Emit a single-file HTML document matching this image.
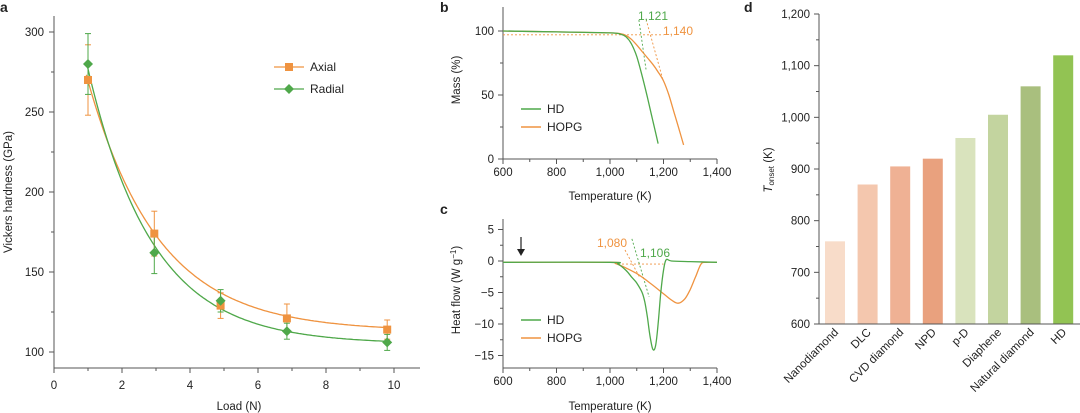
<!DOCTYPE html>
<html><head><meta charset="utf-8"><style>
body{margin:0;background:#fff}
svg{display:block;font-family:"Liberation Sans",Arial,sans-serif;font-size:11.5px;fill:#222}
</style></head><body>
<svg id="fig" width="1080" height="413" viewBox="0 0 1080 413" xmlns="http://www.w3.org/2000/svg"></svg>
<script>
// Panel a data
const loads=[1,2.95,4.9,6.85,9.8];
const axialH=[270,174,129,121,114];
const axialErr=[22,14,8,9,6];
const radialH=[280,162,132,113,106];
const radialErr=[19,13,7,5,5];
const axialFit=[113,253,2.08];
const radialFit=[105,291,1.90];
// Panel b data
const tgaTempHD=[600,800,1000,1040,1060,1080,1100,1120,1140,1160,1180];
const tgaMassHD=[100,99.3,98.5,97.5,95.5,90,80,65,48,30,12];
const tgaTempHOPG=[600,800,1000,1040,1060,1080,1100,1120,1140,1160,1180,1200,1220,1240,1260,1275];
const tgaMassHOPG=[100,99.3,98.5,97.8,96.5,93.5,89,84,79,74,68,61,50,36,22,11];
// Panel c data
const dscTempHD=[600,1000,1030,1060,1080,1100,1120,1130,1140,1150,1160,1170,1180,1190,1200,1210,1230,1300,1400];
const dscFlowHD=[-0.2,-0.2,-0.5,-1.5,-2.5,-3.5,-5,-6.5,-9,-12,-14,-13.5,-10,-5,-1.5,0.2,0,-0.1,-0.2];
const dscTempHOPG=[600,1000,1020,1050,1100,1150,1200,1230,1255,1280,1300,1320,1340,1360,1400];
const dscFlowHOPG=[-0.2,-0.2,-0.4,-0.9,-2,-3.5,-5.2,-6.2,-6.7,-6,-4.5,-2.5,-0.5,-0.2,-0.2];
// Panel d data
const materials=["Nanodiamond","DLC","CVD diamond","NPD","p-D","Diaphene","Natural diamond","HD"];
const onsetT=[760,870,905,920,960,1005,1060,1120];
const barColors=["#f8dcc9","#f4c7ae","#efb194","#e9a17e","#d9e3bd","#c3d49f","#a9bf7e","#92c353"];

const NS="http://www.w3.org/2000/svg";
const svg=document.getElementById('fig');
function el(tag,attrs,parent){const e=document.createElementNS(NS,tag);for(const k in attrs)e.setAttribute(k,attrs[k]);(parent||svg).appendChild(e);return e;}
function txt(s,x,y,attrs,parent){const t=el('text',Object.assign({x:x,y:y},attrs||{}),parent);t.textContent=s;return t;}
const AX='#555',OR='#ef9340',GR='#4fa84a';

// ---------- Panel a ----------
const ga=el('g',{});


const ax=v=>54+v*34, ay=v=>352-(v-100)*1.6;
txt('a',0,12,{'font-weight':'bold','font-size':'14'},ga);
el('line',{x1:54,y1:16,x2:54,y2:368,stroke:AX},ga);
el('line',{x1:54,y1:368,x2:420,y2:368,stroke:AX},ga);
[100,150,200,250,300].forEach(v=>{el('line',{x1:49,x2:54,y1:ay(v),y2:ay(v),stroke:AX},ga);txt(v,44,ay(v)+4,{'text-anchor':'end'},ga);});
[125,175,225,275].forEach(v=>el('line',{x1:51,x2:54,y1:ay(v),y2:ay(v),stroke:AX},ga));
for(let v=0;v<=10;v++){const big=v%2==0;el('line',{x1:ax(v),x2:ax(v),y1:368,y2:big?373:371,stroke:AX},ga);if(big)txt(v,ax(v),389,{'text-anchor':'middle'},ga);}
txt('Load (N)',239,410,{'text-anchor':'middle'},ga);
txt('Vickers hardness (GPa)',12,192,{'text-anchor':'middle',transform:'rotate(-90 12 192)'},ga);
function fitPath(p){let d='';for(let x=0.95;x<=9.85;x+=0.05){const y=p[0]+p[1]*Math.exp(-x/p[2]);d+=(d?'L':'M')+ax(x).toFixed(1)+','+ay(y).toFixed(1);}return d;}
const fa=el('path',{d:fitPath(axialFit),fill:'none',stroke:OR,'stroke-width':1.3},ga);

const fr=el('path',{d:fitPath(radialFit),fill:'none',stroke:GR,'stroke-width':1.3},ga);

function errBars(vals,errs,col,name){loads.forEach((l,i)=>{const x=ax(l),y1=ay(vals[i]+errs[i]),y2=ay(vals[i]-errs[i]);const g=el('g',{stroke:col,'stroke-width':1},ga);el('line',{x1:x,x2:x,y1:y1,y2:y2},g);el('line',{x1:x-3,x2:x+3,y1:y1,y2:y1},g);el('line',{x1:x-3,x2:x+3,y1:y2,y2:y2},g);});}
errBars(axialH,axialErr,OR,'axial');errBars(radialH,radialErr,GR,'radial');
loads.forEach((l,i)=>{const r=el('rect',{x:ax(l)-4,y:ay(axialH[i])-4,width:8,height:8,fill:OR},ga);});
loads.forEach((l,i)=>{const x=ax(l),y=ay(radialH[i]);const p=el('polygon',{points:`${x},${y-5} ${x+5},${y} ${x},${y+5} ${x-5},${y}`,fill:GR},ga);});
const lga=el('g',{},ga);
el('line',{x1:274,x2:304,y1:67,y2:67,stroke:OR,'stroke-width':1.3},lga);el('rect',{x:285,y:63,width:8,height:8,fill:OR},lga);txt('Axial',310,71,{'font-size':'12'},lga);
el('line',{x1:274,x2:304,y1:89,y2:89,stroke:GR,'stroke-width':1.3},lga);el('polygon',{points:'289,84 294,89 289,94 284,89',fill:GR},lga);txt('Radial',310,93,{'font-size':'12'},lga);

// ---------- Panel b & c common x ----------
const tx=v=>503+(v-600)*214/800;
function xAxis(g,yAxis){el('line',{x1:503,y1:yAxis,x2:717,y2:yAxis,stroke:AX},g);for(let v=600;v<=1400;v+=100){const big=v%200==0;el('line',{x1:tx(v),x2:tx(v),y1:yAxis,y2:yAxis+(big?5:3),stroke:AX},g);if(big)txt(v>=1000?(v/1000|0)+','+String(v%1000).padStart(3,'0'):v,tx(v),yAxis+17,{'text-anchor':'middle'},g);}}
function smoothD(P){let d='M'+P[0][0].toFixed(1)+','+P[0][1].toFixed(1);for(let i=0;i<P.length-1;i++){const p0=P[i-1]||P[i],p1=P[i],p2=P[i+1],p3=P[i+2]||p2;const c1=[p1[0]+(p2[0]-p0[0])/6,p1[1]+(p2[1]-p0[1])/6],c2=[p2[0]-(p3[0]-p1[0])/6,p2[1]-(p3[1]-p1[1])/6];d+=`C${c1[0].toFixed(1)},${c1[1].toFixed(1)} ${c2[0].toFixed(1)},${c2[1].toFixed(1)} ${p2[0].toFixed(1)},${p2[1].toFixed(1)}`;}return d;}
function line(xs,ys,fx,fy,col,g,name,dash){let d;if(dash)d=xs.map((x,i)=>(i?'L':'M')+fx(x).toFixed(1)+','+fy(ys[i]).toFixed(1)).join('');else d=smoothD(xs.map((x,i)=>[fx(x),fy(ys[i])]));const p=el('path',{d:d,fill:'none',stroke:col,'stroke-width':dash?0.9:1.3},g);if(dash)p.setAttribute('stroke-dasharray','2,2');return p;}

// ---------- Panel b ----------
const gb=el('g',{});
const by=v=>159-v*1.28;
txt('b',440,12,{'font-weight':'bold','font-size':'14'},gb);
el('line',{x1:503,y1:7,x2:503,y2:159,stroke:AX},gb);
[0,50,100].forEach(v=>{el('line',{x1:498,x2:503,y1:by(v),y2:by(v),stroke:AX},gb);txt(v,494,by(v)+4,{'text-anchor':'end'},gb);});
[25,75].forEach(v=>el('line',{x1:500,x2:503,y1:by(v),y2:by(v),stroke:AX},gb));
xAxis(gb,159);
txt('Temperature (K)',610,200,{'text-anchor':'middle'},gb);
txt('Mass (%)',460,80,{'text-anchor':'middle',transform:'rotate(-90 460 80)'},gb);
line([600,1200],[97,97],tx,by,OR,gb,'hopg-baseline-tangent',true);
line([1108,1135],[108.6,69.5],tx,by,GR,gb,'hd-onset-tangent',true);
line([1135,1198],[109,61.7],tx,by,OR,gb,'hopg-onset-tangent',true);
line(tgaTempHOPG,tgaMassHOPG,tx,by,OR,gb,'hopg-mass-line');
line(tgaTempHD,tgaMassHD,tx,by,GR,gb,'hd-mass-line');
txt('1,121',638,20,{fill:GR,'font-size':'12'},gb);
txt('1,140',663,35,{fill:OR,'font-size':'12'},gb);
const lgb=el('g',{},gb);
el('line',{x1:521,x2:541,y1:109,y2:109,stroke:GR,'stroke-width':1.5},lgb);txt('HD',547,113,{'font-size':'12'},lgb);
el('line',{x1:521,x2:541,y1:127,y2:127,stroke:OR,'stroke-width':1.5},lgb);txt('HOPG',547,131,{'font-size':'12'},lgb);

// ---------- Panel c ----------
const gc=el('g',{});
const cy=v=>261-v*6.3;
txt('c',440,214,{'font-weight':'bold','font-size':'14'},gc);
el('line',{x1:503,y1:219,x2:503,y2:368,stroke:AX},gc);
[5,0,-5,-10,-15].forEach(v=>{el('line',{x1:498,x2:503,y1:cy(v),y2:cy(v),stroke:AX},gc);txt(v<0?'\u2212'+(-v):v,494,cy(v)+4,{'text-anchor':'end'},gc);});
[2.5,-2.5,-7.5,-12.5].forEach(v=>el('line',{x1:500,x2:503,y1:cy(v),y2:cy(v),stroke:AX},gc));
xAxis(gc,368);
txt('Temperature (K)',610,410,{'text-anchor':'middle'},gc);
const ylc=el('text',{x:460,y:290,'text-anchor':'middle',transform:'rotate(-90 460 290)'},gc);
ylc.innerHTML='Heat flow (W g<tspan dy="-4" font-size="8">\u22121</tspan><tspan dy="4">)</tspan>';
line([1030,1200],[-0.5,-0.5],tx,cy,OR,gc,'dsc-baseline-tangent',true);
line([1056,1112],[1.75,-2.7],tx,cy,OR,gc,'hopg-dsc-tangent',true);
line([1082,1146],[3.5,-5.7],tx,cy,GR,gc,'hd-dsc-tangent',true);
line(dscTempHOPG,dscFlowHOPG,tx,cy,OR,gc,'hopg-heatflow-line');
line(dscTempHD,dscFlowHD,tx,cy,GR,gc,'hd-heatflow-line');
txt('1,080',597,247,{fill:OR,'font-size':'12'},gc);
txt('1,106',640,257,{fill:GR,'font-size':'12'},gc);
const arr=el('g',{},gc);
el('line',{x1:521,x2:521,y1:237,y2:252,stroke:'#222','stroke-width':1.2},arr);el('polygon',{points:'517,249 525,249 521,256',fill:'#222'},arr);
const lgc=el('g',{},gc);
el('line',{x1:521,x2:541,y1:320,y2:320,stroke:GR,'stroke-width':1.5},lgc);txt('HD',547,324,{'font-size':'12'},lgc);
el('line',{x1:521,x2:541,y1:338,y2:338,stroke:OR,'stroke-width':1.5},lgc);txt('HOPG',547,342,{'font-size':'12'},lgc);

// ---------- Panel d ----------
const gd=el('g',{});
const dy=v=>324-(v-600)*310/600;
const dx=i=>835+i*32.6;
txt('d',744,12,{'font-weight':'bold','font-size':'14'},gd);
onsetT.forEach((v,i)=>{const r=el('rect',{x:dx(i)-10,y:dy(v),width:20,height:dy(600)-dy(v),fill:barColors[i]},gd);});
el('line',{x1:819,y1:14,x2:819,y2:324,stroke:AX},gd);
el('line',{x1:819,y1:324,x2:1080,y2:324,stroke:AX},gd);
for(let v=600;v<=1200;v+=50){const big=v%100==0;el('line',{x1:big?814:816,x2:819,y1:dy(v),y2:dy(v),stroke:AX},gd);if(big)txt(v>=1000?'1,'+String(v%1000).padStart(3,'0'):v,810,dy(v)+4,{'text-anchor':'end'},gd);}
materials.forEach((m,i)=>{const x=dx(i)+4,y=333;const t=txt(m,x,y,{'text-anchor':'end',transform:`rotate(-45 ${x} ${y})`},gd);});
const yld=el('text',{x:772,y:170,'text-anchor':'middle',transform:'rotate(-90 772 170)'},gd);
yld.innerHTML='<tspan font-style="italic">T</tspan><tspan font-size="8" dy="2">onset</tspan><tspan dy="-2"> (K)</tspan>';
</script>
</body></html>
